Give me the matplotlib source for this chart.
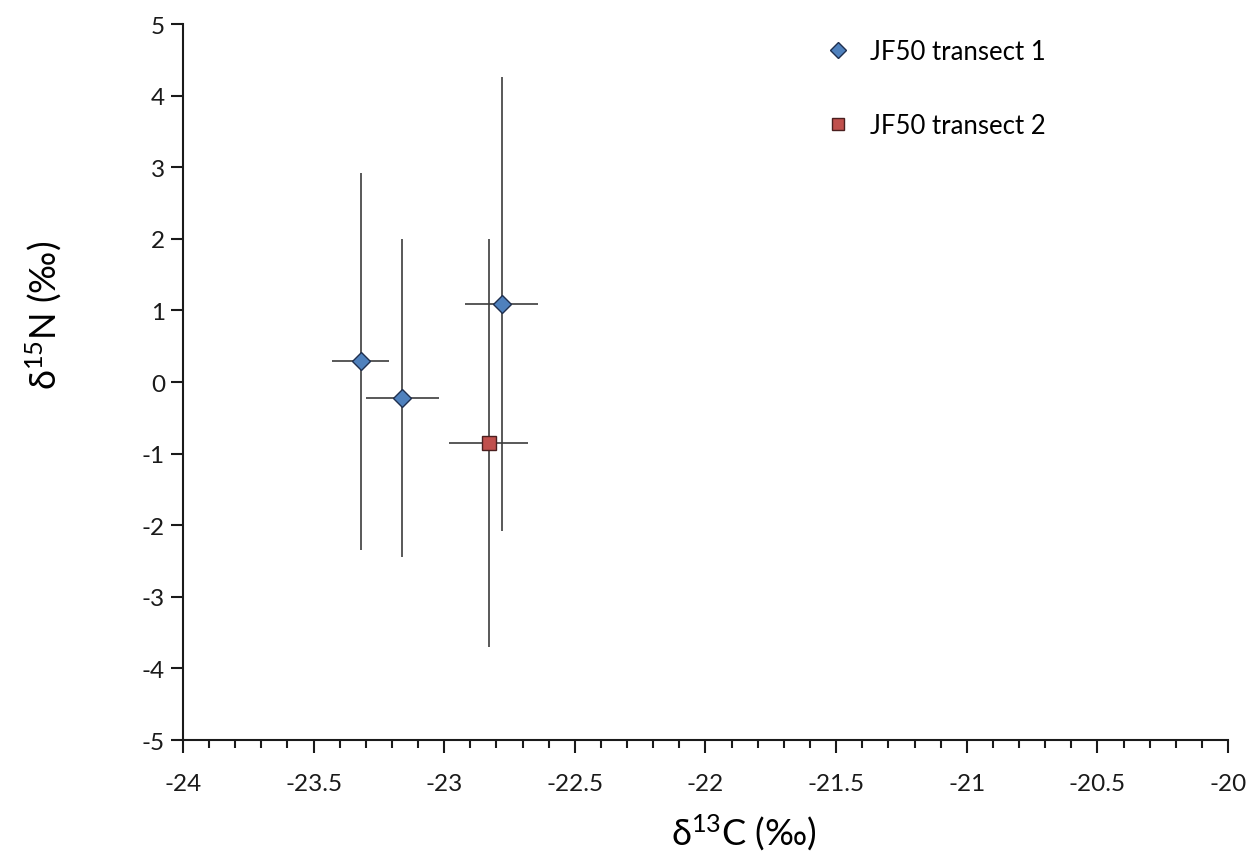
import matplotlib
matplotlib.use('Agg')
import matplotlib.pyplot as plt
from matplotlib.ticker import MultipleLocator

plt.rcParams['font.family'] = ['Lato', 'DejaVu Sans']
plt.rcParams['mathtext.default'] = 'regular'
plt.rcParams['axes.unicode_minus'] = False

# isotope means and standard deviations per transect
t1_c13 = [-23.32, -23.16, -22.78]
t1_n15 = [0.29, -0.22, 1.09]
t1_c13_sd = [0.11, 0.14, 0.14]
t1_n15_sd = [2.63, 2.22, 3.17]

t2_c13 = [-22.83]
t2_n15 = [-0.85]
t2_c13_sd = [0.15]
t2_n15_sd = [2.85]

fig = plt.figure(figsize=(12.55, 8.54), dpi=100)
ax = fig.add_axes([0.1458, 0.1323, 0.8327, 0.8384])

err_kw = dict(ecolor='#3c3c3c', elinewidth=1.2, capsize=0, linestyle='none')
ax.errorbar(t1_c13, t1_n15, xerr=t1_c13_sd, yerr=t1_n15_sd, marker='D', ms=9,
            mfc='#4F81BD', mec='#1F2F4F', mew=1.0, **err_kw)
ax.errorbar(t2_c13, t2_n15, xerr=t2_c13_sd, yerr=t2_n15_sd, marker='s', ms=10.5,
            mfc='#C0504D', mec='#4A1F1F', mew=1.0, **err_kw)

ax.set_xlim(-24, -20)
ax.set_ylim(-5, 5)
ax.xaxis.set_major_locator(MultipleLocator(0.5))
ax.xaxis.set_minor_locator(MultipleLocator(0.1))
ax.yaxis.set_major_locator(MultipleLocator(1))
ax.set_xticklabels([f'{v:g}' for v in ax.get_xticks()])

for side in ('top', 'right'):
    ax.spines[side].set_visible(False)
for side in ('left', 'bottom'):
    ax.spines[side].set_linewidth(1.5)
    ax.spines[side].set_color('#1a1a1a')

ax.tick_params(axis='both', which='major', direction='out', length=9, width=1.5,
               labelsize=17.5, colors='#1a1a1a', pad=4)
ax.tick_params(axis='x', which='major', pad=15)
ax.tick_params(axis='x', which='minor', direction='out', length=6, width=1.5,
               colors='#1a1a1a')

# axis titles sit a little off-centre
ax.set_xlabel('δ$^{13}$C (‰)', fontsize=26, va='center')
ax.xaxis.set_label_coords(0.537, -0.1285)
ax.set_ylabel('δ$^{15}$N (‰)', fontsize=26, va='center')
ax.yaxis.set_label_coords(-0.133, 0.595)

# legend without error bars, just the markers
h1, = ax.plot([], [], 'D', ms=9, mfc='#4F81BD', mec='#1F2F4F', mew=1.0)
h2, = ax.plot([], [], 's', ms=10.5, mfc='#C0504D', mec='#4A1F1F', mew=1.0)
ax.legend([h1, h2], ['JF50 transect 1', 'JF50 transect 2'], loc='upper left',
          bbox_to_anchor=(0.5925, 1.011), frameon=False, fontsize=18.5,
          labelspacing=1.9, handlelength=1.0, handletextpad=0.75,
          markerscale=0.85)

fig.savefig('out.png', dpi=100)
